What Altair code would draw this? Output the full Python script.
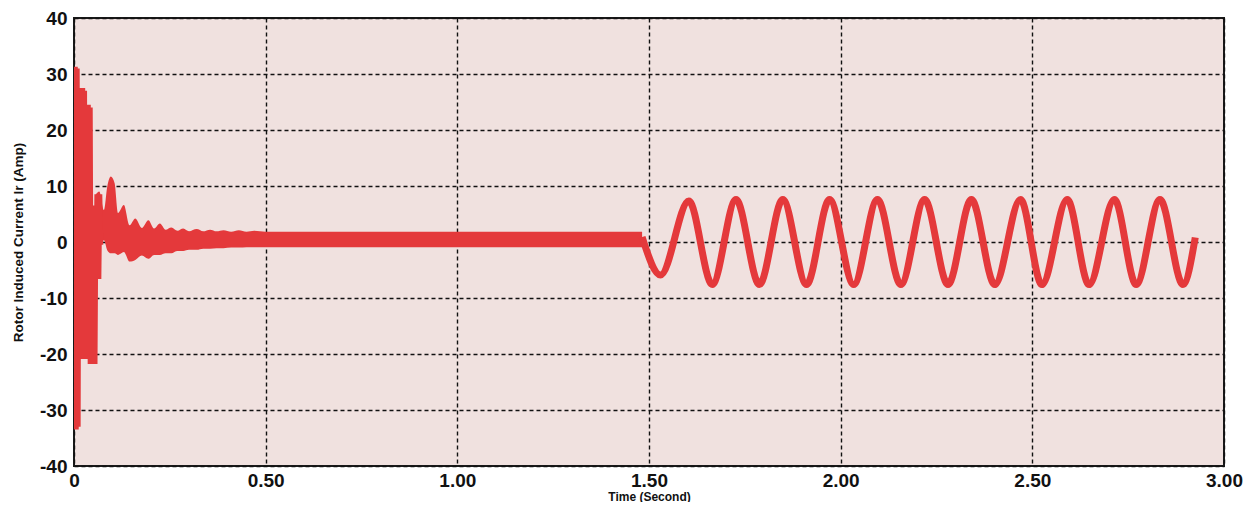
import altair as alt
import pandas as pd

# ---- data ----
# early large transient (zig-zag of the rapidly oscillating current)
zig_t = [0.0000, 0.0020, 0.0045, 0.0070, 0.0095, 0.0118, 0.0142, 0.0166, 0.0190,
         0.0214, 0.0238, 0.0262, 0.0286, 0.0310, 0.0335, 0.0360, 0.0385, 0.0410,
         0.0435, 0.0460, 0.0485, 0.0510, 0.0535, 0.0560, 0.0585, 0.0610, 0.0635,
         0.0660, 0.0685]
zig_v = [0.0, 31.3, -33.5, 31.0, -33.0, 27.5, -20.9, 27.5, -20.9,
         27.5, -20.9, 27.0, -20.9, 24.5, -7.2, 24.5, -7.2, 24.0,
         -21.8, 6.5, -21.8, 6.5, -21.8, 6.5, -6.6, 8.5, -6.6,
         8.5, -0.5]

# envelope of the dense ripple band (decaying transient, then steady band)
env_t = [0.057, 0.066, 0.078, 0.087, 0.096, 0.106, 0.115, 0.130, 0.145, 0.160,
         0.177, 0.194, 0.209, 0.224, 0.239, 0.254, 0.270, 0.285, 0.300, 0.320,
         0.337, 0.355, 0.372, 0.390, 0.410, 0.430, 0.450, 0.470, 0.500, 1.482]
env_hi = [8.5, 9.0, 5.7, 10.0, 11.7, 10.5, 5.2, 6.6, 3.0, 4.2,
          2.5, 3.9, 2.4, 3.3, 2.2, 2.6, 2.0, 2.4, 1.9, 2.3,
          1.9, 2.2, 1.9, 2.1, 1.85, 2.1, 1.85, 2.0, 1.84, 1.84]
env_lo = [-6.6, -1.0, 0.3, -1.5, -2.0, -2.0, -2.3, -1.8, -3.5, -3.2,
          -2.4, -3.0, -2.3, -2.3, -2.0, -2.0, -1.6, -1.6, -1.4, -1.4,
          -1.2, -1.2, -1.1, -1.1, -1.0, -1.0, -0.95, -0.95, -0.95, -0.95]

# sinusoidal current after t = 1.5 s (extrema)
sine_t = [1.482, 1.530, 1.604, 1.665, 1.727, 1.788, 1.849, 1.911, 1.971, 2.034,
          2.096, 2.157, 2.219, 2.280, 2.341, 2.402, 2.469, 2.525, 2.591, 2.648,
          2.714, 2.771, 2.833, 2.893, 2.925]
sine_v = [0.9, -5.9, 7.3, -7.6, 7.6, -7.6, 7.6, -7.6, 7.6, -7.6,
          7.6, -7.6, 7.6, -7.6, 7.6, -7.6, 7.6, -7.6, 7.6, -7.6,
          7.6, -7.6, 7.6, -7.6, 0.8]

x_ticks = [0, 0.5, 1.0, 1.5, 2.0, 2.5, 3.0]
y_ticks = [-40, -30, -20, -10, 0, 10, 20, 30, 40]

RED = "#E4393B"
W, H = 1150, 448

zig_df = pd.DataFrame({"t": zig_t, "v": zig_v})
env_df = pd.DataFrame({"t": env_t, "v": env_hi, "v2": env_lo})
sine_df = pd.DataFrame({"t": sine_t, "v": sine_v})

x_enc = alt.X(
    "t:Q",
    scale=alt.Scale(domain=[0, 3], nice=False, zero=False),
    axis=alt.Axis(
        values=x_ticks,
        title="Time (Second)",
        labelExpr="datum.value == 0 ? '0' : format(datum.value, '.2f')",
        labelFlush=False,
        labelOverlap=False,
        labelPadding=5,
        labelBaseline="top",
        titleX=W / 2,
        titleY=30,
        titleBaseline="middle",
        titleAlign="center",
        titleFontSize=12,
    ),
)
y_enc = alt.Y(
    "v:Q",
    scale=alt.Scale(domain=[-40, 40], nice=False, zero=False),
    axis=alt.Axis(
        values=y_ticks,
        title="Rotor Induced Current Ir (Amp)",
        labelExpr="'' + datum.value",
        labelFlush=False,
        labelOverlap=False,
        labelPadding=7,
        titleX=-56,
        titleY=H / 2,
        titleAngle=270,
        titleAlign="center",
        titleBaseline="middle",
        titleFontSize=13.5,
    ),
)

band = alt.Chart(env_df).mark_area(
    color=RED, opacity=1, clip=True, interpolate="monotone"
).encode(x=x_enc, y=y_enc, y2="v2:Q")
zig = alt.Chart(zig_df).mark_line(color=RED, strokeWidth=6, clip=True).encode(
    x=x_enc, y=y_enc
)
sine = alt.Chart(sine_df).mark_line(
    color=RED, strokeWidth=7, interpolate="monotone", clip=True
).encode(x=x_enc, y=y_enc)

chart = (
    alt.layer(band, zig, sine)
    .properties(
        width=W,
        height=H,
        autosize=alt.AutoSizeParams(type="none"),
        padding={"left": 66, "top": 10, "right": 20, "bottom": 36},
        background="#FFFFFF",
    )
    .configure_view(fill="#F0E1DF", stroke="#1A1A1A", strokeWidth=2)
    .configure_axis(
        grid=True,
        gridColor="#111111",
        gridDash=[4, 3],
        gridWidth=1.4,
        gridOpacity=1,
        domain=False,
        ticks=False,
        labelFont="Liberation Sans",
        labelFontWeight="bold",
        labelFontSize=19,
        labelColor="#111111",
        titleFont="Liberation Sans",
        titleFontWeight="bold",
        titleColor="#111111",
    )
)

chart.save("out.html", embed_options={"renderer": "svg", "actions": False})
